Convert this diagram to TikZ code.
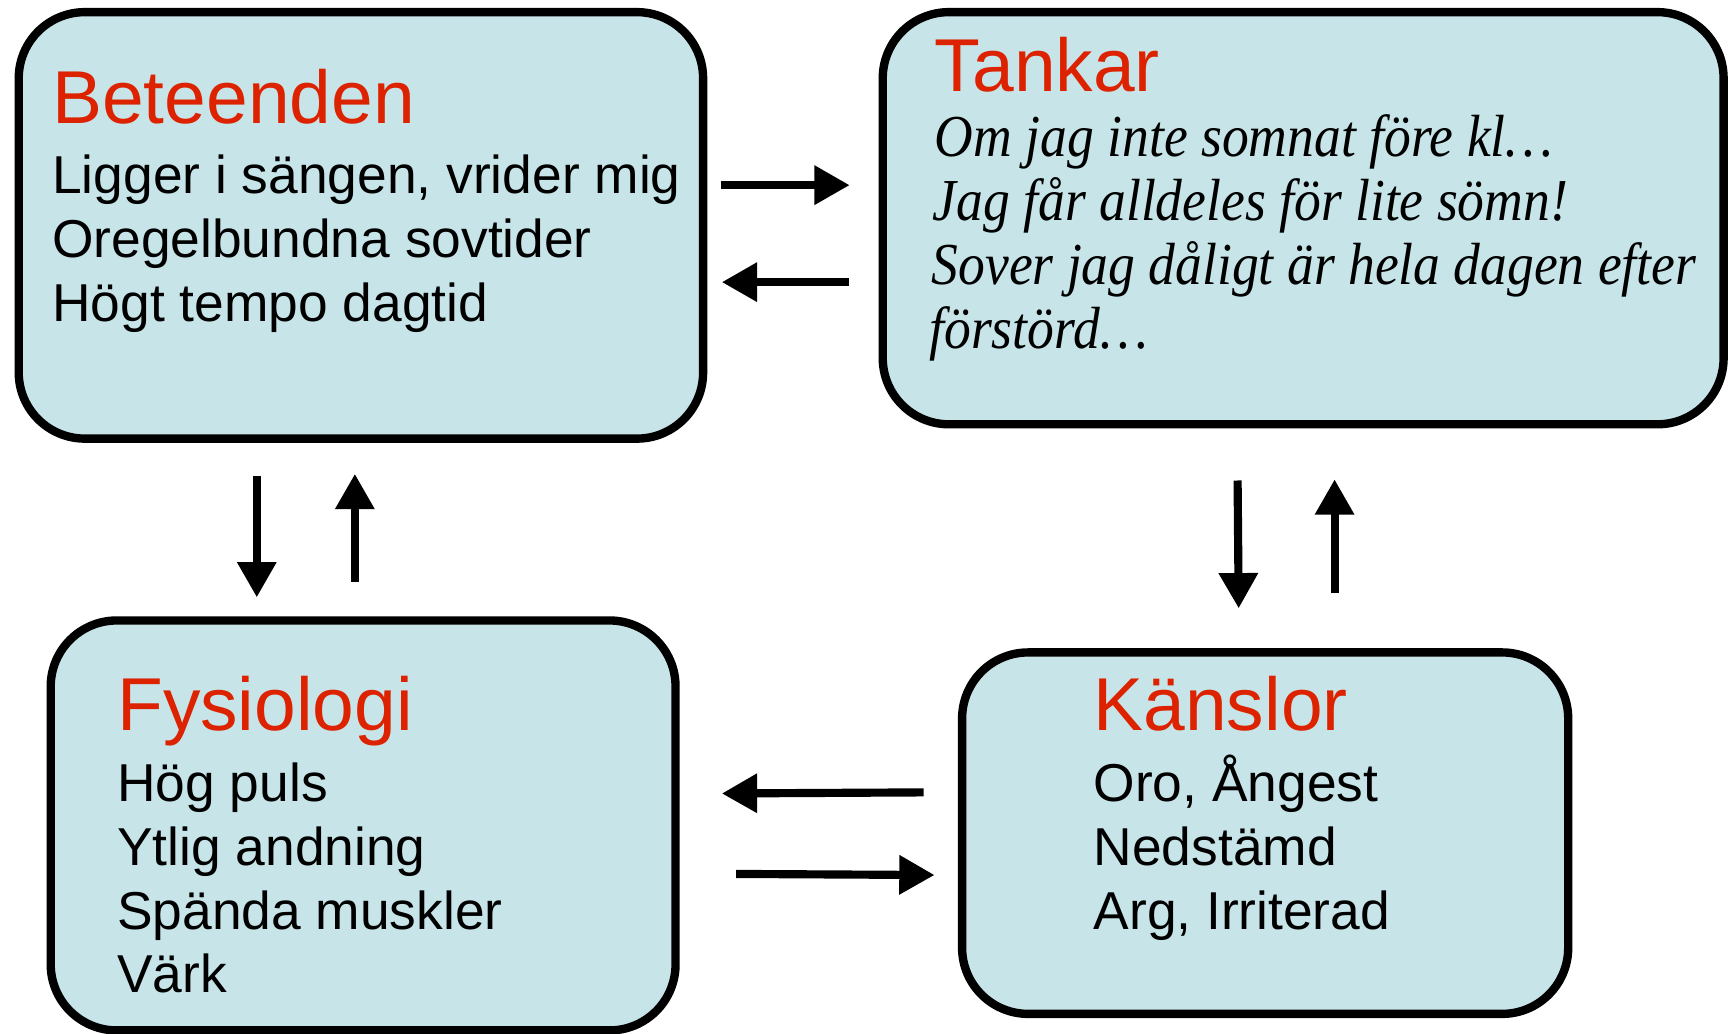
\documentclass[tikz,border=0pt]{standalone}
\usepackage{fontspec}
\setmainfont{Liberation Sans}
\newfontfamily\tkfont{Liberation Serif}[FakeStretch=0.9]
\usetikzlibrary{arrows.meta}
\definecolor{boxfill}{RGB}{199,229,232}
\definecolor{titlered}{RGB}{221,34,0}
\begin{document}
\begin{tikzpicture}[x=0.5pt,y=-0.5pt,
  box/.style={draw=black, line width=3.8pt, fill=boxfill, rounded corners=30pt, outer sep=0pt, inner sep=0pt, anchor=north west},
  ttl/.style={anchor=base west, inner sep=0pt, text=titlered, font=\fontsize{34}{40}\selectfont},
  body/.style={anchor=base west, inner sep=0pt, font=\fontsize{24.2}{29}\selectfont},
  tk/.style={anchor=base west, inner sep=0pt, font=\tkfont\itshape\fontsize{27}{29}\selectfont},
  arr/.style={line width=3.7pt, -{Triangle[length=16pt,width=17pt]}}]
\useasboundingbox (0,0) rectangle (1568,938);
% boxes
\node[box, minimum width=310.5pt, minimum height=193.5pt] (beh) at (17,11) {};
\node[box, minimum width=381.5pt, minimum height=187pt] (tank) at (801,11) {};
\node[box, minimum width=283.5pt, minimum height=186pt] (fys) at (46,563) {};
\node[box, minimum width=275pt, minimum height=164pt] (kans) at (873,592) {};
% Beteenden
\node[ttl] (behT) at (47,112) {Beteenden};
\node[body] (beh1) at (47,176) {Ligger i sängen, vrider mig};
\node[body] (beh2) at (47,234) {Oregelbundna sovtider};
\node[body] (beh3) at (47,292) {Högt tempo dagtid};
% Tankar
\node[ttl] (tankT) at (848,83) {Tankar};
\node[tk] (tank1) at (848,142) {Om jag inte somnat före kl…};
\node[tk] (tank2) at (846,200) {Jag får alldeles för lite sömn!};
\node[tk] (tank3) at (845,258) {Sover jag dåligt är hela dagen efter};
\node[tk] (tank4) at (843,316) {förstörd…};
% Fysiologi
\node[ttl] (fysT) at (106,663) {Fysiologi};
\node[body] (fys1) at (106,727) {Hög puls};
\node[body] (fys2) at (106,785) {Ytlig andning};
\node[body] (fys3) at (106,843) {Spända muskler};
\node[body] (fys4) at (106,901) {Värk};
% Känslor
\node[ttl] (kansT) at (992,663) {Känslor};
\node[body] (kans1) at (992,727) {Oro, Ångest};
\node[body] (kans2) at (992,785) {Nedstämd};
\node[body] (kans3) at (992,843) {Arg, Irriterad};
% arrow end points
\coordinate (a1s) at (654,168); \coordinate (a1e) at (771,168);
\coordinate (a2s) at (770,256); \coordinate (a2e) at (655,256);
\coordinate (a3s) at (233,432); \coordinate (a3e) at (233,542);
\coordinate (a4s) at (322,528); \coordinate (a4e) at (322,430);
\coordinate (a5s) at (1123,436); \coordinate (a5e) at (1124,552);
\coordinate (a6s) at (1211,538); \coordinate (a6e) at (1211,435);
\coordinate (a7s) at (838,719); \coordinate (a7e) at (655,720);
\coordinate (a8s) at (668,793); \coordinate (a8e) at (848,794);
\foreach \i in {1,...,8}{\draw[arr] (a\i s) -- (a\i e);}
\end{tikzpicture}
\end{document}
